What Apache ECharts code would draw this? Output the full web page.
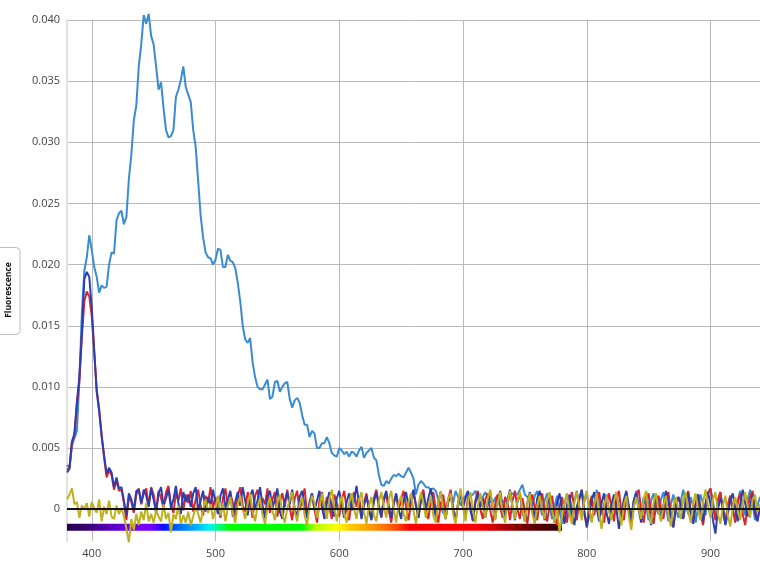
<!DOCTYPE html>
<html>
<head>
<meta charset="utf-8">
<script src="https://cdn.jsdelivr.net/npm/echarts@6/dist/echarts.min.js"></script>
<style>html,body{margin:0;padding:0;background:#fff}#c{width:760px;height:570px}</style>
</head>
<body>
<div id="c"></div>
<script>
const wavelengths = [
380,382,384,386,388,390,392,394,396,398,400,402,404,406,408,410,412,414,416,418,
420,422,424,426,428,430,432,434,436,438,440,442,444,446,448,450,452,454,456,458,
460,462,464,466,468,470,472,474,476,478,480,482,484,486,488,490,492,494,496,498,
500,502,504,506,508,510,512,514,516,518,520,522,524,526,528,530,532,534,536,538,
540,542,544,546,548,550,552,554,556,558,560,562,564,566,568,570,572,574,576,578,
580,582,584,586,588,590,592,594,596,598,600,602,604,606,608,610,612,614,616,618,
620,622,624,626,628,630,632,634,636,638,640,642,644,646,648,650,652,654,656,658,
660,662,664,666,668,670,672,674,676,678,680,682,684,686,688,690,692,694,696,698,
700,702,704,706,708,710,712,714,716,718,720,722,724,726,728,730,732,734,736,738,
740,742,744,746,748,750,752,754,756,758,760,762,764,766,768,770,772,774,776,778,
780,782,784,786,788,790,792,794,796,798,800,802,804,806,808,810,812,814,816,818,
820,822,824,826,828,830,832,834,836,838,840,842,844,846,848,850,852,854,856,858,
860,862,864,866,868,870,872,874,876,878,880,882,884,886,888,890,892,894,896,898,
900,902,904,906,908,910,912,914,916,918,920,922,924,926,928,930,932,934,936,938,
940];

const lightBlue = [
0.0036,0.0034,0.0052,0.0058,0.0064,0.0105,0.0160,0.0195,0.0206,0.0224,
0.0212,0.0198,0.0190,0.0177,0.0183,0.0181,0.0182,0.0200,0.0210,0.0209,
0.0236,0.0242,0.0244,0.0233,0.0239,0.0270,0.0290,0.0318,0.0330,0.0362,
0.0380,0.0404,0.0397,0.0405,0.0387,0.0380,0.0362,0.0343,0.0349,0.0328,
0.0310,0.0304,0.0305,0.0310,0.0337,0.0343,0.0351,0.0362,0.0345,0.0339,
0.0333,0.0310,0.0296,0.0268,0.0240,0.0222,0.0210,0.0206,0.0205,0.0200,
0.0204,0.0213,0.0212,0.0198,0.0198,0.0208,0.0203,0.0202,0.0197,0.0185,
0.0170,0.0150,0.0139,0.0136,0.0140,0.0120,0.0108,0.0100,0.0098,0.0098,
0.0102,0.0106,0.0090,0.0092,0.0104,0.0105,0.0096,0.0100,0.0103,0.0104,
0.0090,0.0083,0.0089,0.0091,0.0087,0.0077,0.0069,0.0069,0.0059,0.0064,
0.0062,0.0050,0.0050,0.0054,0.0054,0.0059,0.0054,0.0046,0.0044,0.0043,
0.0050,0.0048,0.0045,0.0047,0.0043,0.0047,0.0046,0.0043,0.0048,0.0051,
0.0042,0.0046,0.0048,0.0050,0.0042,0.0040,0.0028,0.0020,0.0019,0.0023,
0.0021,0.0025,0.0028,0.0027,0.0029,0.0027,0.0026,0.0030,0.0034,0.0030,
0.0025,0.0012,0.0020,0.0023,0.0021,0.0018,0.0018,0.0016,0.0017,0.0015,
0.0008,0.0002,-0.0003,-0.0004,0.0008,0.0012,0.0005,0.0015,0.0010,0.0003,
0.0008,0.0011,0.0014,0.0011,0.0012,0.0015,0.0009,0.0002,0.0010,0.0014,
0.0010,0.0006,0.0005,0.0009,0.0011,0.0008,0.0006,0.0007,0.0005,0.0011,
0.0013,0.0012,0.0012,0.0016,0.0020,0.0012,0.0010,0.0008,0.0003,0.0011,
0.0015,0.0004,-0.0005,0.0007,0.0013,0.0002,-0.0008,0.0002,0.0011,0.0000,
-0.0012,0.0004,0.0012,0.0001,-0.0006,0.0007,0.0015,0.0002,-0.0005,0.0006,
0.0013,0.0001,-0.0010,0.0003,0.0016,0.0006,-0.0004,0.0004,0.0012,-0.0001,
-0.0008,0.0008,0.0014,0.0001,-0.0007,0.0005,0.0013,0.0000,-0.0006,0.0007,
0.0015,0.0003,-0.0005,0.0010,0.0003,-0.0009,0.0007,0.0013,0.0001,-0.0004,
0.0008,0.0014,0.0002,-0.0010,0.0004,0.0012,0.0000,-0.0007,0.0007,0.0016,
0.0005,-0.0004,0.0010,0.0002,-0.0011,0.0002,0.0012,0.0004,-0.0005,0.0013,
0.0017,0.0006,-0.0006,0.0005,0.0014,0.0001,-0.0010,0.0004,0.0011,-0.0001,
-0.0007,0.0007,0.0015,0.0003,-0.0005,0.0008,0.0016,0.0004,-0.0009,0.0003,
0.0010];

const red = [
0.0032,0.0034,0.0055,0.0060,0.0085,0.0105,0.0140,0.0170,0.0178,0.0174,
0.0158,0.0128,0.0098,0.0082,0.0060,0.0042,0.0026,0.0032,0.0028,0.0016,
0.0024,0.0015,0.0016,0.0005,-0.0009,0.0010,0.0006,-0.0003,0.0012,0.0017,
0.0004,0.0013,0.0017,0.0003,0.0018,0.0012,-0.0002,0.0015,0.0009,0.0001,
0.0014,0.0019,0.0004,-0.0003,0.0013,0.0007,0.0017,-0.0001,0.0012,0.0005,
0.0015,-0.0002,0.0008,0.0016,0.0003,-0.0005,0.0011,0.0005,0.0018,0.0001,
0.0010,0.0004,-0.0007,0.0009,0.0017,0.0002,0.0013,0.0005,-0.0006,0.0011,
0.0018,0.0003,-0.0002,0.0014,0.0006,-0.0007,0.0011,0.0016,0.0001,0.0009,
0.0004,0.0017,-0.0003,0.0008,0.0014,-0.0006,0.0006,0.0013,0.0002,0.0016,
0.0001,-0.0009,0.0009,0.0015,-0.0001,0.0008,0.0017,-0.0004,0.0004,0.0013,
0.0000,-0.0011,0.0007,0.0014,-0.0002,0.0010,0.0002,-0.0008,0.0012,0.0005,
-0.0006,0.0008,0.0015,0.0000,-0.0009,0.0007,0.0014,0.0002,0.0010,-0.0005,
0.0005,0.0013,-0.0001,-0.0008,0.0009,0.0016,0.0003,-0.0007,0.0007,0.0012,
-0.0001,-0.0011,0.0004,0.0012,-0.0001,0.0008,0.0015,0.0002,-0.0009,0.0005,
0.0013,0.0003,-0.0007,0.0010,0.0016,0.0001,-0.0008,0.0007,0.0014,-0.0001,
-0.0011,0.0004,0.0012,-0.0002,0.0008,0.0016,0.0000,-0.0009,0.0005,0.0013,
0.0002,-0.0007,0.0010,0.0003,-0.0010,0.0007,0.0015,0.0000,-0.0008,0.0008,
0.0013,-0.0001,-0.0011,0.0004,0.0012,0.0002,-0.0007,0.0010,0.0005,-0.0009,
0.0007,0.0015,0.0000,-0.0008,0.0009,-0.0001,-0.0012,0.0004,0.0012,0.0001,
-0.0009,0.0007,0.0013,-0.0001,-0.0010,0.0003,0.0011,-0.0005,-0.0013,0.0002,
0.0010,-0.0002,-0.0011,0.0006,0.0014,0.0001,-0.0009,0.0008,0.0015,-0.0004,
-0.0013,0.0003,0.0011,-0.0005,0.0006,0.0014,0.0000,-0.0011,0.0005,0.0013,
0.0001,-0.0010,0.0008,0.0015,-0.0002,-0.0009,0.0009,0.0003,-0.0014,0.0002,
0.0011,0.0016,-0.0001,-0.0011,0.0005,0.0013,-0.0003,-0.0012,0.0003,0.0011,
0.0001,-0.0008,0.0008,0.0014,-0.0004,-0.0014,0.0001,0.0010,0.0005,-0.0007,
0.0006,0.0015,-0.0002,-0.0011,0.0005,0.0012,-0.0004,-0.0013,0.0003,0.0013,
0.0017,0.0002,-0.0009,0.0008,0.0014,-0.0003,-0.0012,0.0003,0.0011,0.0000,
-0.0011,0.0005,0.0013,-0.0004,-0.0013,0.0002,0.0010,0.0015,-0.0001,-0.0009,
0.0003];

const darkBlue = [
0.0030,0.0033,0.0055,0.0062,0.0088,0.0108,0.0145,0.0188,0.0194,0.0190,
0.0165,0.0130,0.0096,0.0080,0.0060,0.0044,0.0029,0.0034,0.0030,0.0018,
0.0026,0.0017,0.0018,0.0007,-0.0005,0.0013,0.0008,-0.0001,0.0015,0.0016,
0.0005,0.0016,0.0011,0.0002,0.0017,0.0008,-0.0003,0.0013,0.0018,0.0003,
0.0009,0.0016,0.0001,0.0008,0.0019,0.0005,-0.0004,0.0014,0.0006,0.0012,
0.0002,0.0013,0.0018,-0.0001,0.0007,0.0015,-0.0002,0.0010,0.0004,0.0016,
0.0005,-0.0004,0.0011,0.0017,0.0001,0.0008,0.0015,-0.0006,0.0006,0.0014,
0.0003,0.0018,0.0007,-0.0005,0.0011,0.0016,0.0000,0.0007,0.0018,0.0003,
-0.0007,0.0010,0.0015,0.0001,0.0008,0.0017,-0.0002,-0.0008,0.0007,0.0014,
0.0004,0.0016,0.0000,-0.0006,0.0010,0.0015,0.0003,-0.0007,0.0006,0.0013,
-0.0001,0.0007,0.0015,0.0002,-0.0008,0.0005,0.0014,0.0000,-0.0006,0.0009,
0.0015,0.0003,-0.0007,0.0006,0.0013,-0.0001,0.0007,0.0019,0.0004,-0.0008,
0.0003,0.0011,0.0000,-0.0009,0.0006,0.0014,0.0002,-0.0006,0.0009,0.0015,
0.0003,-0.0007,0.0005,0.0013,0.0000,-0.0008,0.0007,0.0014,0.0002,0.0009,
0.0016,0.0003,-0.0007,0.0006,0.0013,-0.0001,0.0009,0.0017,0.0004,-0.0006,
0.0006,0.0014,0.0002,-0.0008,0.0005,0.0012,0.0000,-0.0010,0.0004,0.0013,
0.0001,0.0009,0.0015,-0.0001,-0.0009,0.0005,0.0013,0.0002,0.0009,-0.0007,
0.0004,0.0014,0.0001,-0.0008,0.0006,0.0015,0.0003,-0.0006,0.0008,0.0016,
0.0002,-0.0009,0.0006,0.0013,-0.0001,-0.0010,0.0005,0.0014,0.0001,-0.0007,
0.0009,0.0015,0.0001,-0.0009,0.0004,0.0012,-0.0002,-0.0011,0.0005,0.0013,
0.0000,-0.0012,0.0003,0.0012,-0.0003,-0.0013,0.0002,0.0009,0.0016,-0.0001,
-0.0015,-0.0005,0.0007,0.0014,0.0001,-0.0010,0.0005,0.0013,-0.0003,-0.0012,
0.0004,0.0012,0.0000,-0.0016,-0.0004,0.0008,0.0015,0.0002,-0.0008,0.0007,
0.0013,-0.0001,-0.0011,0.0005,0.0014,0.0001,-0.0013,0.0000,0.0012,0.0004,
-0.0009,0.0003,0.0015,0.0006,-0.0006,-0.0015,0.0002,0.0010,0.0003,-0.0008,
0.0006,0.0013,-0.0003,-0.0012,0.0004,0.0012,0.0001,-0.0010,0.0005,0.0014,
0.0004,-0.0009,-0.0020,0.0000,0.0009,0.0003,-0.0013,-0.0004,0.0007,0.0013,
0.0001,-0.0010,0.0004,0.0016,0.0005,-0.0006,0.0003,0.0012,-0.0004,-0.0010,
0.0002];

const yellow = [
0.0008,0.0012,0.0017,0.0004,0.0006,-0.0007,0.0003,0.0000,0.0005,-0.0006,
0.0006,0.0001,-0.0003,0.0008,-0.0010,0.0002,-0.0004,0.0007,-0.0006,-0.0008,
0.0003,-0.0004,0.0001,-0.0006,-0.0016,-0.0027,-0.0008,-0.0017,-0.0004,-0.0013,
-0.0002,-0.0009,0.0005,-0.0010,-0.0004,-0.0011,-0.0001,-0.0006,-0.0010,0.0004,
-0.0008,-0.0003,-0.0019,-0.0004,-0.0008,0.0003,-0.0012,-0.0005,-0.0011,-0.0002,
-0.0013,-0.0006,0.0002,-0.0004,-0.0011,0.0000,0.0008,-0.0003,0.0004,-0.0008,
0.0001,0.0011,-0.0005,0.0005,-0.0010,0.0002,0.0010,-0.0003,-0.0011,0.0004,
0.0011,0.0000,-0.0008,0.0005,0.0013,-0.0002,-0.0010,0.0003,0.0009,-0.0005,
-0.0012,0.0002,0.0010,-0.0001,-0.0009,0.0005,0.0012,-0.0004,-0.0011,0.0001,
0.0008,0.0014,-0.0002,-0.0010,0.0004,0.0010,-0.0005,-0.0013,0.0002,0.0011,
0.0005,-0.0007,0.0001,0.0013,0.0003,-0.0008,0.0008,0.0016,0.0002,-0.0010,
0.0003,0.0011,-0.0004,-0.0011,0.0005,0.0013,0.0000,-0.0008,0.0008,0.0014,
-0.0002,-0.0012,0.0003,0.0010,-0.0005,-0.0010,0.0006,0.0014,0.0002,-0.0007,
0.0008,0.0015,0.0000,-0.0011,0.0005,0.0011,-0.0004,-0.0010,0.0006,0.0013,
-0.0001,-0.0012,0.0003,0.0014,0.0005,-0.0007,0.0002,0.0011,-0.0005,-0.0011,
0.0006,0.0015,0.0000,-0.0008,0.0008,0.0013,-0.0004,-0.0012,0.0005,0.0017,
0.0003,-0.0010,0.0006,0.0014,-0.0001,-0.0011,0.0003,0.0013,0.0002,-0.0007,
0.0009,0.0016,0.0002,-0.0009,0.0005,0.0014,-0.0002,-0.0011,0.0006,0.0015,
0.0002,-0.0008,0.0007,0.0014,0.0000,-0.0010,0.0005,0.0013,-0.0004,-0.0012,
0.0003,0.0011,0.0000,-0.0008,0.0007,0.0014,-0.0001,-0.0011,0.0002,-0.0019,
-0.0006,0.0006,0.0013,-0.0004,-0.0012,0.0005,0.0014,0.0002,-0.0009,0.0008,
0.0015,0.0000,-0.0011,0.0003,0.0013,-0.0005,-0.0016,0.0002,0.0011,-0.0002,
-0.0009,0.0006,0.0014,-0.0001,-0.0013,0.0003,0.0011,-0.0006,-0.0017,0.0002,
0.0010,0.0000,-0.0008,0.0008,0.0015,-0.0004,-0.0012,0.0005,0.0013,-0.0001,
-0.0010,0.0003,0.0011,-0.0005,-0.0014,0.0002,0.0010,0.0000,-0.0008,0.0008,
0.0014,-0.0002,-0.0011,0.0005,0.0013,-0.0001,-0.0009,0.0006,0.0016,0.0003,
-0.0007,0.0008,0.0014,-0.0004,-0.0012,0.0003,0.0011,-0.0005,-0.0014,0.0002,
0.0010,0.0000,-0.0009,0.0005,0.0014,0.0003,-0.0007,0.0008,0.0012,-0.0002,
0.0004];

const yTicks = ['0', '0.005', '0.010', '0.015', '0.020', '0.025', '0.030', '0.035', '0.040'];
const spectrumRange = [380, 780];
const spectrumLevel = -0.00147;

const pairs = vals => wavelengths.map((w, i) => [w, vals[i]]);

const chart = echarts.init(document.getElementById('c'), null, {renderer: 'canvas'});

const spectrumGradient = new echarts.graphic.LinearGradient(0, 0, 1, 0, [
  {offset: 0.00, color: '#1e0040'},
  {offset: 0.05, color: '#3a0078'},
  {offset: 0.12, color: '#6a00e8'},
  {offset: 0.17, color: '#7a00ff'},
  {offset: 0.19, color: '#4400ff'},
  {offset: 0.20, color: '#0010ff'},
  {offset: 0.225, color: '#0060ff'},
  {offset: 0.26, color: '#00a8ff'},
  {offset: 0.29, color: '#00f0f0'},
  {offset: 0.31, color: '#00ff80'},
  {offset: 0.33, color: '#00ff00'},
  {offset: 0.475, color: '#00ff00'},
  {offset: 0.50, color: '#b0ff00'},
  {offset: 0.545, color: '#ffff00'},
  {offset: 0.57, color: '#ffcc00'},
  {offset: 0.62, color: '#ff9000'},
  {offset: 0.66, color: '#ff5000'},
  {offset: 0.69, color: '#ff0000'},
  {offset: 0.82, color: '#ff0000'},
  {offset: 0.86, color: '#c80000'},
  {offset: 0.92, color: '#700000'},
  {offset: 1.00, color: '#2a0000'}
]);

const lineSeries = (name, vals, color) => ({
  name, type: 'line', data: pairs(vals), showSymbol: false, symbol: 'none',
  sampling: null, silent: true, animation: false, clip: false,
  lineStyle: {color, width: 2}
});

chart.setOption({
  animation: false,
  backgroundColor: '#fff',
  grid: {left: 67, right: 0, top: 20, bottom: 29, containLabel: false, outerBoundsMode: 'none'},
  xAxis: {
    type: 'value', min: 380, max: 940,
    axisLine: {show: true, lineStyle: {color: '#dcdcdc', width: 1}},
    axisTick: {show: false},
    axisLabel: {showMinLabel: false, showMaxLabel: false, color: '#444', fontSize: 11, fontFamily: 'Open Sans', margin: 7},
    splitLine: {show: true, showMinLine: false, showMaxLine: false, lineStyle: {color: '#b9b9b9', width: 1}}
  },
  yAxis: {
    type: 'value', min: -0.0026, max: 0.040, splitNumber: 9,
    axisLine: {show: true, lineStyle: {color: '#e2e2e2', width: 2}},
    axisTick: {show: false},
    axisLabel: {
      showMinLabel: false, color: '#444', fontSize: 11, fontFamily: 'Open Sans', margin: 7,
      formatter: v => { const i = Math.round(v / 0.005); return (i >= 0 && Math.abs(v - i * 0.005) < 1e-9) ? yTicks[i] : ''; }
    },
    splitLine: {show: true, showMinLine: false, lineStyle: {color: '#b9b9b9', width: 1}}
  },
  series: [
    {
      name: 'spectrum', type: 'line', silent: true, showSymbol: false, symbol: 'none',
      data: [[spectrumRange[0], spectrumLevel], [spectrumRange[1], spectrumLevel]],
      lineStyle: {width: 7, color: spectrumGradient, cap: 'butt'}
    },
    Object.assign(lineSeries('Light blue', lightBlue, '#3a8cd2'), {
      markLine: {
        silent: true, symbol: 'none', label: {show: false},
        lineStyle: {color: '#111', width: 2, type: 'solid'},
        data: [{yAxis: 0}]
      }
    }),
    lineSeries('Red', red, '#e0222c'),
    lineSeries('Dark blue', darkBlue, '#2d3fae'),
    lineSeries('Yellow', yellow, '#bfb020')
  ],
  graphic: [
    {
      type: 'rect', left: -6, top: 247, silent: true,
      shape: {width: 25.5, height: 87, r: 4},
      style: {fill: '#fff', stroke: '#bdbdbd', lineWidth: 1}
    },
    {
      type: 'text', x: 9, y: 290, rotation: Math.PI / 2, silent: true,
      style: {text: 'Fluorescence', fill: '#111', font: 'bold 8.5px "Open Sans"', align: 'center', verticalAlign: 'middle'}
    }
  ]
});
</script>
</body>
</html>
